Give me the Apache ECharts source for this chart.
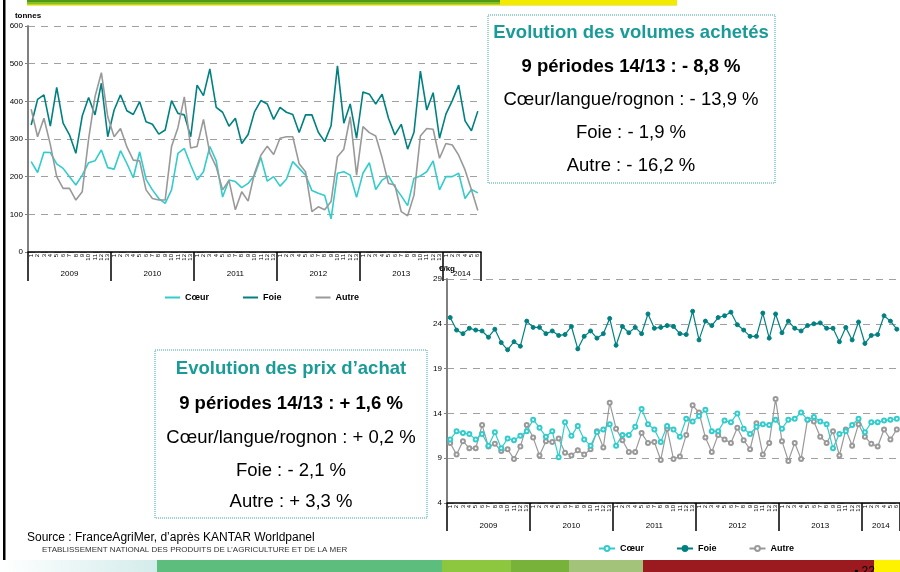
<!DOCTYPE html>
<html>
<head>
<meta charset="utf-8">
<script src="https://cdn.jsdelivr.net/npm/echarts@6/dist/echarts.min.js"></script>
<style>html,body{margin:0;padding:0;background:#fff}#chart{width:900px;height:572px}</style>
</head>
<body>
<div id="chart"></div>
<script>
// années et nombre de périodes Kantar affichées
var years = ['2009', '2010', '2011', '2012', '2013', '2014'];
var periodsPerYear = [13, 13, 13, 13, 13, 6];

// volumes achetés (tonnes)
var volCoeur = [240,211,265,264,234,222,200,178,204,237,242,271,224,220,269,235,197,266,193,165,142,129,165,262,275,231,191,213,280,242,146,191,187,171,182,204,251,188,200,175,193,240,222,204,163,156,150,88,209,213,204,145,209,237,166,191,202,173,149,123,196,202,213,242,165,200,200,209,142,166,157];
var volFoie = [337,405,417,334,437,342,311,262,361,410,364,448,306,377,417,375,365,399,346,339,313,324,402,368,364,306,443,415,486,384,371,334,355,288,312,372,402,393,352,384,371,365,317,364,364,318,293,335,494,342,393,302,425,419,393,419,355,311,339,273,318,480,377,423,302,366,402,443,348,322,374];
var volAutre = [379,306,355,285,200,169,169,138,160,300,412,476,359,306,328,279,244,242,165,142,138,138,280,330,412,276,280,352,262,226,165,190,112,160,135,209,257,281,259,302,306,306,234,213,107,120,112,134,253,273,359,204,333,317,308,250,182,178,107,96,151,308,328,326,249,288,284,257,218,165,110];

// prix d'achat (€/kg)
var prixCoeur = [11.1,12.0,11.8,11.7,11.1,11.7,10.4,11.9,10.1,11.2,11.0,11.5,12.0,13.3,12.4,11.4,12.0,9.1,13.0,11.5,12.6,11.1,10.4,11.9,12.2,12.8,10.4,11.6,11.6,12.5,14.5,12.8,12.2,10.8,12.6,12.2,11.4,13.4,13.1,13.7,14.4,12.0,12.0,13.2,13.0,14.0,12.3,11.7,12.5,12.8,12.7,13.3,12.3,13.3,13.4,14.1,13.3,13.6,13.1,12.8,10.1,11.7,12.0,12.7,13.4,11.9,13.0,13.0,13.2,13.3,13.4];
var prixFoie = [24.7,23.3,22.9,23.5,23.3,23.2,22.5,23.4,21.9,21.1,22.0,21.5,24.3,23.6,23.6,22.9,23.2,22.7,22.8,23.7,21.2,22.6,23.2,22.4,22.9,24.6,21.6,23.7,23.0,23.6,22.9,25.1,23.5,23.6,23.8,23.7,22.9,22.8,25.4,22.2,24.3,23.8,24.7,24.9,25.3,23.9,23.3,22.6,22.6,25.2,22.4,25.1,23.0,24.3,23.5,23.2,23.8,24.0,24.1,23.5,23.5,22.0,23.6,22.2,24.2,21.8,22.7,22.8,24.9,24.3,23.4];
var prixAutre = [10.7,9.4,10.9,10.1,10.1,12.7,10.3,10.6,9.8,10.0,8.9,10.3,12.7,11.3,9.3,10.9,10.8,11.2,9.6,9.3,9.9,9.4,10.0,12.0,10.2,15.2,12.3,11.0,9.7,9.7,11.8,10.7,10.8,8.8,12.3,8.9,9.2,11.6,14.9,14.1,11.3,9.7,11.6,11.1,10.7,12.4,11.0,10.0,12.9,9.4,10.7,15.6,10.9,8.7,10.7,8.9,13.3,13.1,11.4,10.7,12.0,9.3,12.2,10.4,12.8,11.4,10.6,10.3,12.2,11.1,12.2];

// axes construits à partir des années
var periods = [], yearBounds = [], yearMids = [];
var n = 0;
for (var y = 0; y < years.length; y++) {
    yearBounds.push(n);
    yearMids.push(n + periodsPerYear[y] / 2);
    for (var p = 1; p <= periodsPerYear[y]; p++) periods.push(String(p));
    n += periodsPerYear[y];
}
yearBounds.push(n);

var cCoeur = '#33cccc', cFoie = '#008080', cAutre = '#999999';
var ff = 'Liberation Sans, Arial, sans-serif';
var zw = '\u200b';

function periodAxis(grid) {
    return {
        type: 'category', gridIndex: grid, data: periods, boundaryGap: true,
        axisLine: {lineStyle: {color: '#000', width: 1.5}},
        axisTick: {interval: 0, length: 9, lineStyle: {color: '#000'}},
        axisLabel: {interval: 0, rotate: 90, fontSize: 6, margin: 2, color: '#000', fontFamily: ff},
        splitLine: {show: false}
    };
}
function yearAxis(grid, margin, len) {
    return {
        type: 'value', gridIndex: grid, min: 0, max: n, position: 'bottom',
        axisLine: {show: false},
        axisTick: {show: true, customValues: yearBounds, length: len, lineStyle: {color: '#000', width: 1.5}},
        axisLabel: {
            customValues: yearMids, margin: margin, fontSize: 8, color: '#000', fontFamily: ff,
            formatter: function (v) {
                for (var i = 0; i < yearMids.length; i++) if (Math.abs(yearMids[i] - v) < 0.01) return years[i];
                return '';
            }
        },
        splitLine: {show: false}
    };
}
function valueAxis(grid, min, max, step, name) {
    return {
        type: 'value', gridIndex: grid, min: min, max: max, interval: step,
        name: name, nameLocation: 'end', nameGap: 6,
        nameTextStyle: {fontSize: 8, fontWeight: 'bold', color: '#000', fontFamily: ff, align: 'center'},
        axisLine: {show: true, lineStyle: {color: '#808080', width: 2}},
        axisTick: {show: true, length: 3, lineStyle: {color: '#808080'}},
        axisLabel: {fontSize: 8, color: '#000', margin: 5, fontFamily: ff},
        splitLine: {show: true, lineStyle: {color: '#a0a0a0', type: [7, 6], width: 1}}
    };
}
function volSeries(name, data, color) {
    return {
        name: name, type: 'line', xAxisIndex: 0, yAxisIndex: 0, data: data,
        symbol: 'none', lineStyle: {color: color, width: 1.6}, itemStyle: {color: color}
    };
}
function prixSeries(name, data, color, symbol) {
    return {
        name: name + zw, type: 'line', xAxisIndex: 2, yAxisIndex: 1, data: data,
        symbol: symbol, symbolSize: 4, showAllSymbol: true,
        lineStyle: {color: color, width: 1.2},
        itemStyle: {color: color, borderColor: color, borderWidth: 1}
    };
}
function txt(t, x, y, size, bold, color) {
    return {type: 'text', z: 10, style: {text: t, x: x, y: y, align: 'center', verticalAlign: 'middle',
        font: (bold ? 'bold ' : '') + size + 'px ' + ff, fill: color || '#000'}};
}

var myChart = echarts.init(document.getElementById('chart'));
var option = {
    animation: false,
    grid: [
        {left: 28, top: 26, width: 453, height: 226},
        {left: 447, top: 279, width: 457, height: 224}
    ],
    xAxis: [periodAxis(0), yearAxis(0, 18, 29), periodAxis(1), yearAxis(1, 19, 28)],
    yAxis: [valueAxis(0, 0, 600, 100, 'tonnes'), valueAxis(1, 4, 29, 5, '€/kg')],
    legend: [
        {data: ['Cœur', 'Foie', 'Autre'], icon: 'rect', left: 160, top: 288, itemWidth: 15, itemHeight: 2, itemGap: 34,
            textStyle: {fontSize: 9, fontWeight: 'bold', color: '#000', fontFamily: ff}},
        {data: ['Cœur' + zw, 'Foie' + zw, 'Autre' + zw], left: 593, top: 539, itemWidth: 16, itemHeight: 6, itemGap: 32,
            formatter: function (name) { return name.replace(zw, ''); },
            textStyle: {fontSize: 9, fontWeight: 'bold', color: '#000', fontFamily: ff}}
    ],
    series: [
        volSeries('Cœur', volCoeur, cCoeur),
        volSeries('Foie', volFoie, cFoie),
        volSeries('Autre', volAutre, cAutre),
        prixSeries('Autre', prixAutre, cAutre, 'emptyCircle'),
        prixSeries('Cœur', prixCoeur, cCoeur, 'emptyCircle'),
        prixSeries('Foie', prixFoie, cFoie, 'circle')
    ],
    graphic: [
        // bandeau haut
        {type: 'rect', shape: {x: 27, y: 0, width: 473, height: 2}, style: {fill: '#4f9a12'}},
        {type: 'rect', shape: {x: 27, y: 2, width: 473, height: 2.5}, style: {fill: '#86bf26'}},
        {type: 'rect', shape: {x: 27, y: 4, width: 650, height: 1.5}, style: {fill: '#d2d400'}},
        {type: 'rect', shape: {x: 500, y: 0, width: 177, height: 5}, style: {fill: '#f2ea00'}},
        // bord gauche
        {type: 'rect', shape: {x: 3, y: 0, width: 2.5, height: 560}, style: {fill: '#000'}},
        // encadré volumes
        {type: 'rect', z: 9, shape: {x: 488, y: 15, width: 287, height: 168},
            style: {fill: '#fff', stroke: '#3aa6a6', lineWidth: 1, lineDash: [1, 1]}},
        txt('Evolution des volumes achetés', 631, 33, 18.5, true, '#1a9b98'),
        txt('9 périodes 14/13 : - 8,8 %', 631, 67, 18.5, true),
        txt('Cœur/langue/rognon : - 13,9 %', 631, 100, 18.5, false),
        txt('Foie : - 1,9 %', 631, 133, 18.5, false),
        txt('Autre : - 16,2 %', 631, 166, 18.5, false),
        // encadré prix
        {type: 'rect', z: 9, shape: {x: 155, y: 350, width: 272, height: 168},
            style: {fill: '#fff', stroke: '#3aa6a6', lineWidth: 1, lineDash: [1, 1]}},
        txt('Evolution des prix d\u2019achat', 291, 369, 18.5, true, '#1a9b98'),
        txt('9 périodes 14/13 : + 1,6 %', 291, 404, 18.5, true),
        txt('Cœur/langue/rognon : + 0,2 %', 291, 438, 18.5, false),
        txt('Foie : - 2,1 %', 291, 471, 18.5, false),
        txt('Autre : + 3,3 %', 291, 502, 18.5, false),
        // source
        {type: 'text', z: 10, style: {text: 'Source : FranceAgriMer, d\u2019après KANTAR Worldpanel', x: 27, y: 538,
            verticalAlign: 'middle', font: '12px ' + ff, fill: '#000'}},
        {type: 'text', z: 10, style: {text: 'ETABLISSEMENT NATIONAL DES PRODUITS DE L\u2019AGRICULTURE ET DE LA MER', x: 42, y: 550,
            verticalAlign: 'middle', font: '8px ' + ff, fill: '#333'}},
        // bandeau bas
        {type: 'rect', shape: {x: 0, y: 560, width: 157, height: 12},
            style: {fill: new echarts.graphic.LinearGradient(0, 0, 1, 0, [{offset: 0, color: '#ffffff'}, {offset: 1, color: '#d3eceb'}])}},
        {type: 'rect', shape: {x: 157, y: 560, width: 285, height: 12}, style: {fill: '#5dbd7c'}},
        {type: 'rect', shape: {x: 442, y: 560, width: 69, height: 12}, style: {fill: '#8dc63f'}},
        {type: 'rect', shape: {x: 511, y: 560, width: 58, height: 12}, style: {fill: '#79b23a'}},
        {type: 'rect', shape: {x: 569, y: 560, width: 74, height: 12}, style: {fill: '#a3c27a'}},
        {type: 'rect', shape: {x: 643, y: 560, width: 231, height: 12}, style: {fill: '#9a1a20'}},
        {type: 'rect', shape: {x: 874, y: 560, width: 26, height: 12}, style: {fill: '#fff200'}},
        {type: 'text', z: 10, style: {text: '\u25aa 22', x: 854, y: 566, font: '12px ' + ff, fill: '#000'}}
    ]
};
myChart.setOption(option);
</script>
</body>
</html>
